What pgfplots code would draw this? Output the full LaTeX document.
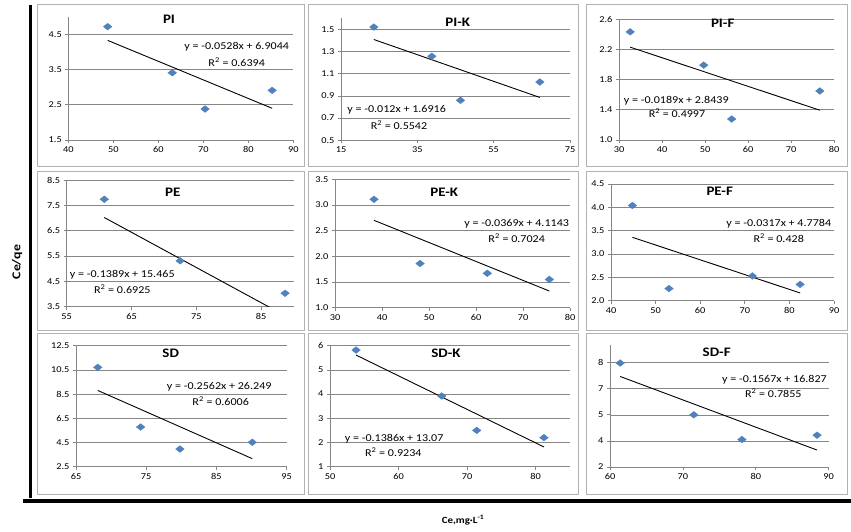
\documentclass[border=0pt]{standalone}
\usepackage{fontspec}
\setmainfont{Carlito}[FakeStretch=1.15]
\usepackage{pgfplots}
\pgfplotsset{compat=1.18}
\definecolor{exblue}{RGB}{79,129,189}
\definecolor{exgrid}{RGB}{134,134,134}
\definecolor{exframe}{RGB}{178,178,178}
\pgfplotsset{
  panel/.style={
    scale only axis, anchor=south west,
    axis lines=left, axis line style={-, draw=exgrid, line width=0.7pt},
    tick align=outside, major tick length=3pt,
    tick style={draw=exgrid, line width=0.7pt},
    ymajorgrids, grid style={draw=exgrid, line width=0.6pt},
    /pgf/number format/assume math mode=true,
    tick label style={font=\fontsize{9}{10}\selectfont, text=black},
  },
  zf/.style={yticklabel style={/pgf/number format/.cd, fixed, precision=1, fixed zerofill}},
  tl/.style={black, line width=0.9pt, no markers},
  pts/.style={only marks, mark=diamond*, mark size=3.35pt, mark options={xscale=1.7, fill=exblue, draw=exblue}},
}
\tikzset{
  ttl/.style={font=\bfseries\fontsize{13}{15}\selectfont, inner sep=0pt},
  eq/.style={font=\fontsize{10.5}{12}\selectfont, inner sep=0pt},
}
\begin{document}
\begin{tikzpicture}
\path[use as bounding box] (0,0) rectangle (851pt,531pt);
% panel frames
\foreach \xa/\xb in {37/304, 308/578, 586/847}{
  \draw[exframe, line width=1pt] (\xa pt,526pt) rectangle (\xb pt,364pt);
  \draw[exframe, line width=1pt] (\xa pt,359pt) rectangle (\xb pt,201pt);
  \draw[exframe, line width=1pt] (\xa pt,198pt) rectangle (\xb pt,37pt);
}
% ---------- PI
\begin{axis}[panel, at={(68.3pt,391pt)}, width=225pt, height=123.2pt,
  xmin=40, xmax=90, xtick={40,50,60,70,80,90},
  ymin=1.5, ymax=5, ytick={1.5,2.5,3.5,4.5}]
\addplot[pts] coordinates {(48.75,4.72) (63.1,3.41) (70.4,2.38) (85.3,2.91)};
\addplot[tl] coordinates {(48.75,4.330) (85.3,2.400)};
\end{axis}
% ---------- PI-K
\begin{axis}[panel, at={(341pt,390.7pt)}, width=229pt, height=122.1pt,
  xmin=15, xmax=75, xtick={15,35,55,75},
  ymin=0.5, ymax=1.6, ytick={0.5,0.7,0.9,1.1,1.3,1.5}]
\addplot[pts] coordinates {(23.6,1.52) (38.8,1.257) (46.3,0.86) (67.1,1.025)};
\addplot[tl] coordinates {(23.6,1.408) (67.1,0.886)};
\end{axis}
% ---------- PI-F
\begin{axis}[panel, zf, at={(619pt,391pt)}, width=215pt, height=121pt,
  xmin=30, xmax=80, xtick={30,40,50,60,70,80},
  ymin=1.0, ymax=2.6, ytick={1.0,1.4,1.8,2.2,2.6}]
\addplot[pts] coordinates {(32.6,2.43) (49.7,1.99) (56.2,1.277) (76.7,1.648)};
\addplot[tl] coordinates {(32.6,2.228) (76.7,1.394)};
\end{axis}
% ---------- PE
\begin{axis}[panel, at={(66.7pt,224.3pt)}, width=226.8pt, height=126.7pt,
  xmin=55, xmax=90, xtick={55,65,75,85},
  ymin=3.5, ymax=8.5, ytick={3.5,4.5,5.5,6.5,7.5,8.5}]
\addplot[pts] coordinates {(60.8,7.74) (72.5,5.31) (88.7,4.03)};
\addplot[tl] coordinates {(60.8,7.020) (88.7,3.145)};
\end{axis}
% ---------- PE-K
\begin{axis}[panel, zf, at={(335pt,223.3pt)}, width=235pt, height=128.4pt,
  xmin=30, xmax=80, xtick={30,40,50,60,70,80},
  ymin=1.0, ymax=3.5, ytick={1.0,1.5,2.0,2.5,3.0,3.5}]
\addplot[pts] coordinates {(38.3,3.11) (48.1,1.86) (62.4,1.67) (75.6,1.55)};
\addplot[tl] coordinates {(38.3,2.701) (75.6,1.325)};
\end{axis}
% ---------- PE-F
\begin{axis}[panel, zf, at={(611pt,230.3pt)}, width=223pt, height=116.7pt,
  xmin=40, xmax=90, xtick={40,50,60,70,80,90},
  ymin=2.0, ymax=4.5, ytick={2.0,2.5,3.0,3.5,4.0,4.5}]
\addplot[pts] coordinates {(44.8,4.04) (53.0,2.26) (71.7,2.53) (82.4,2.35)};
\addplot[tl] coordinates {(44.8,3.358) (82.4,2.166)};
\end{axis}
% ---------- SD
\begin{axis}[panel, at={(76pt,64.3pt)}, width=210.7pt, height=121pt,
  xmin=65, xmax=95, xtick={65,75,85,95},
  ymin=2.5, ymax=12.5, ytick={2.5,4.5,6.5,8.5,10.5,12.5}]
\addplot[pts] coordinates {(68.1,10.71) (74.2,5.78) (79.8,3.96) (90.1,4.52)};
\addplot[tl] coordinates {(68.1,8.802) (90.1,3.165)};
\end{axis}
% ---------- SD-K
\begin{axis}[panel, at={(330pt,64.3pt)}, width=240pt, height=121pt,
  xmin=50, xmax=85, xtick={50,60,70,80},
  ymin=1, ymax=6, ytick={1,2,3,4,5,6}]
\addplot[pts] coordinates {(53.8,5.82) (66.3,3.92) (71.4,2.50) (81.2,2.20)};
\addplot[tl] coordinates {(53.8,5.613) (81.2,1.816)};
\end{axis}
% ---------- SD-F
\begin{axis}[panel, at={(610pt,64pt)}, width=218.7pt, height=121.7pt,
  xmin=60, xmax=90, xtick={60,70,80,90},
  ymin=2, ymax=9, ytick={2,3.5,5,6.5,8}, yticklabels={2,4,5,7,8}]
\addplot[pts] coordinates {(61.4,7.98) (71.5,5.0) (78.1,3.58) (88.4,3.83)};
\addplot[tl] coordinates {(61.4,7.206) (88.4,2.975)};
\end{axis}
% titles
\node[ttl] at (169pt,511.7pt) {PI};
\node[ttl] at (457.7pt,508.3pt) {PI-K};
\node[ttl] at (722.7pt,507.7pt) {PI-F};
\node[ttl] at (172.7pt,338.3pt) {PE};
\node[ttl] at (444.3pt,338.7pt) {PE-K};
\node[ttl] at (719.7pt,340pt) {PE-F};
\node[ttl] at (170.7pt,177.7pt) {SD};
\node[ttl] at (446pt,177.7pt) {SD-K};
\node[ttl] at (716.7pt,178.3pt) {SD-F};
% equations
\node[eq] at (236.7pt,484.3pt) {y = -0.0528x + 6.9044};
\node[eq] at (236.7pt,469.3pt) {R\textsuperscript{2} = 0.6394};
\node[eq] at (396.7pt,421pt) {y = -0.012x + 1.6916};
\node[eq] at (399pt,406pt) {R\textsuperscript{2} = 0.5542};
\node[eq] at (676.3pt,430.3pt) {y = -0.0189x + 2.8439};
\node[eq] at (677pt,417.7pt) {R\textsuperscript{2} = 0.4997};
\node[eq] at (122.3pt,256pt) {y = -0.1389x + 15.465};
\node[eq] at (122.3pt,242pt) {R\textsuperscript{2} = 0.6925};
\node[eq] at (516.7pt,307pt) {y = -0.0369x + 4.1143};
\node[eq] at (516.7pt,293.3pt) {R\textsuperscript{2} = 0.7024};
\node[eq] at (778.8pt,307pt) {y = -0.0317x + 4.7784};
\node[eq] at (778.7pt,293.3pt) {R\textsuperscript{2} = 0.428};
\node[eq] at (219.2pt,144.3pt) {y = -0.2562x + 26.249};
\node[eq] at (220.7pt,130.3pt) {R\textsuperscript{2} = 0.6006};
\node[eq] at (394.2pt,92.7pt) {y = -0.1386x + 13.07};
\node[eq] at (393.3pt,79.3pt) {R\textsuperscript{2} = 0.9234};
\node[eq] at (774.5pt,151pt) {y = -0.1567x + 16.827};
\node[eq] at (773.3pt,137.7pt) {R\textsuperscript{2} = 0.7855};
% outer lines and labels
\draw[line width=3pt] (30pt,526pt) -- (30pt,33pt);
\draw[line width=3.5pt] (23pt,30pt) -- (851pt,30pt);
\node[rotate=90, font=\bfseries\fontsize{12}{14}\selectfont] at (17pt,269pt) {Ce/qe};
\node[font=\bfseries\fontsize{9.5}{11}\selectfont] at (463pt,11pt) {Ce,mg·L\textsuperscript{-1}};
\end{tikzpicture}
\end{document}
